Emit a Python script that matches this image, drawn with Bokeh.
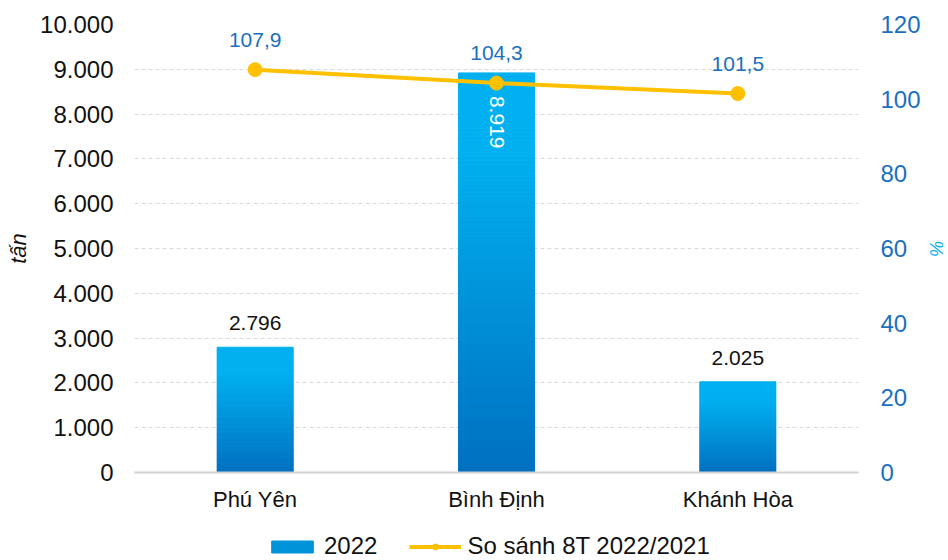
import math
from bokeh.plotting import figure
from bokeh.layouts import column
from bokeh.models import (Range1d, LinearAxis, FixedTicker, Legend, LegendItem,
                          ColumnDataSource, FactorRange)
from bokeh.core.properties import value
from bokeh.embed import file_html
from bokeh.resources import INLINE

# ---- data ----
categories = ["Phú Yên", "Bình Định", "Khánh Hòa"]
tons_2022 = [2796, 8919, 2025]
pct_8t = [107.9, 104.3, 101.5]
left_ticks = [0, 1000, 2000, 3000, 4000, 5000, 6000, 7000, 8000, 9000, 10000]
left_tick_labels = ["0", "1.000", "2.000", "3.000", "4.000", "5.000",
                    "6.000", "7.000", "8.000", "9.000", "10.000"]
right_ticks = [0, 20, 40, 60, 80, 100, 120]
right_tick_labels = ["0", "20", "40", "60", "80", "100", "120"]
series_bar = "2022"
series_line = "So sánh 8T 2022/2021"
y_left_title = "tấn"
y_right_title = "%"

FONT = "Liberation Sans"
BLUE_TXT = "#1B6FBE"
LIGHT = (0, 176, 240)
DARK = (0, 112, 192)
GOLD = "#FFC000"


def fmt_int(v):
    return f"{v:,}".replace(",", ".")


def fmt_dec(v):
    return f"{v:.1f}".replace(".", ",")


def mix(t):
    r = round(DARK[0] + (LIGHT[0] - DARK[0]) * t)
    g = round(DARK[1] + (LIGHT[1] - DARK[1]) * t)
    b = round(DARK[2] + (LIGHT[2] - DARK[2]) * t)
    return "#%02x%02x%02x" % (r, g, b)


p = figure(x_range=FactorRange(*categories), y_range=Range1d(0, 10000),
           width=948, height=520, output_backend="svg", toolbar_location=None,
           min_border_left=134, min_border_right=88, min_border_top=24,
           min_border_bottom=48, outline_line_color=None)
p.extra_y_ranges = {"pct": Range1d(0, 120)}

# gradient bars: stacked slices of each bar
N = 100
sx, sb, st, sc = [], [], [], []
for c, v in zip(categories, tons_2022):
    for i in range(N):
        sx.append(c)
        sb.append(v * i / N)
        st.append(v * (i + 1) / N)
        sc.append(mix(min(1.0, 1.25 * (i + 0.5) / N)))
src = ColumnDataSource(dict(x=sx, bottom=sb, top=st, color=sc))
bars = p.vbar(x="x", bottom="bottom", top="top", width=0.315, source=src,
              fill_color="color", line_color="color", line_width=1)

# line
ln = p.line(categories, pct_8t, y_range_name="pct", line_color=GOLD, line_width=4)
pts = p.scatter(categories, pct_8t, y_range_name="pct", size=14,
                fill_color=GOLD, line_color=GOLD)

# bar labels
out_x, out_y, out_t, in_x, in_y, in_t = [], [], [], [], [], []
for c, v in zip(categories, tons_2022):
    if v > 8000:
        in_x.append(c); in_y.append(v); in_t.append(fmt_int(v))
    else:
        out_x.append(c); out_y.append(v); out_t.append(fmt_int(v))
p.text(out_x, out_y, text=out_t, text_align="center", text_baseline="middle",
       y_offset=-24, text_font_size="21px", text_color="#111111",
       text_font=value(FONT))
p.text(in_x, in_y, text=in_t, angle=-math.pi / 2, text_align="left",
       text_baseline="middle", y_offset=23, text_font_size="21px",
       text_color="white", text_font=value(FONT))

# line labels
p.text(categories, pct_8t, text=[fmt_dec(v) for v in pct_8t], y_range_name="pct",
       text_align="center", text_baseline="middle", y_offset=-30,
       text_font_size="21px", text_color=BLUE_TXT, text_font=value(FONT))

# axes
ya = p.yaxis[0]
ya.ticker = FixedTicker(ticks=left_ticks)
ya.major_label_overrides = {t: l for t, l in zip(left_ticks, left_tick_labels)}
ya.axis_line_color = None
ya.major_tick_line_color = None
ya.minor_tick_line_color = None
ya.major_tick_out = 0
ya.major_tick_in = 0
ya.minor_tick_out = 0
ya.major_label_text_font = FONT
ya.major_label_text_font_size = "24px"
ya.major_label_text_color = "#111111"
ya.major_label_standoff = 21
ya.axis_label = y_left_title
ya.axis_label_text_font = FONT
ya.axis_label_text_font_style = "italic"
ya.axis_label_text_font_size = "22px"
ya.axis_label_text_color = "#111111"
ya.axis_label_standoff = 6

ra = LinearAxis(y_range_name="pct", ticker=FixedTicker(ticks=right_ticks))
ra.major_label_overrides = {t: l for t, l in zip(right_ticks, right_tick_labels)}
ra.axis_line_color = None
ra.major_tick_line_color = None
ra.minor_tick_line_color = None
ra.major_tick_out = 0
ra.major_tick_in = 0
ra.minor_tick_out = 0
ra.major_label_text_font = FONT
ra.major_label_text_font_size = "24px"
ra.major_label_text_color = BLUE_TXT
ra.major_label_standoff = 22
ra.axis_label = y_right_title
ra.axis_label_text_font = FONT
ra.axis_label_text_font_size = "18px"
ra.axis_label_text_color = "#00B0F0"
ra.axis_label_standoff = 2
p.add_layout(ra, "right")

xa = p.xaxis[0]
xa.axis_line_color = "#D0D0D0"
xa.axis_line_width = 2
xa.major_tick_line_color = None
xa.minor_tick_line_color = None
xa.major_tick_out = 0
xa.major_tick_in = 0
xa.major_label_text_font = FONT
xa.major_label_text_font_size = "22px"
xa.major_label_text_color = "#111111"
xa.major_label_standoff = 14

p.xgrid.grid_line_color = None
p.ygrid.ticker = FixedTicker(ticks=left_ticks)
p.ygrid.grid_line_color = "#D9D9D9"
p.ygrid.grid_line_dash = "4 3"

# ---- legend strip below the chart (key glyphs sit below its visible range) ----
lg = figure(width=948, height=40, output_backend="svg", toolbar_location=None,
            x_range=Range1d(0, 1), y_range=Range1d(0, 1),
            x_axis_location=None, y_axis_location=None,
            min_border=0, outline_line_color=None)
lg.grid.visible = False
key_bar = lg.vbar(x=[0.5], bottom=[-6], top=[-5], width=0.1,
                  fill_color=mix(0.55), line_color=mix(0.55))
key_line = lg.line(x=[0.2, 0.8], y=[-5, -5], line_color=GOLD, line_width=4)
key_pt = lg.scatter(x=[0.5], y=[-5], size=14, fill_color=GOLD, line_color=GOLD)
legend = Legend(items=[
    LegendItem(label=series_bar, renderers=[key_bar]),
    LegendItem(label=series_line, renderers=[key_line, key_pt]),
], orientation="horizontal", location=(132, 0), border_line_color=None,
    background_fill_alpha=0, label_text_font=FONT, label_text_font_size="24px",
    label_text_color="#111111", glyph_width=52, glyph_height=15, spacing=32,
    label_standoff=6, margin=0, padding=0)
lg.add_layout(legend, "center")

layout = column(p, lg, spacing=0)
open("out.html", "w").write(file_html(layout, INLINE))
